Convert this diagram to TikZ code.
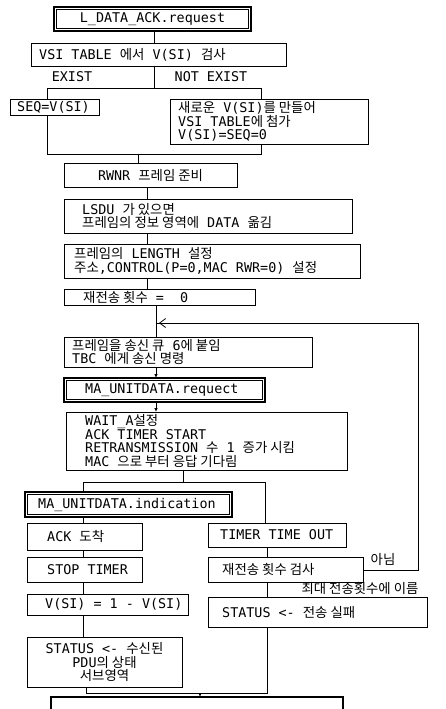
\documentclass[tikz,border=0pt]{standalone}
\usepackage{fontspec}
\setmainfont{DejaVu Sans Mono}
\newfontfamily\kr[Scale=1.0]{Noto Sans CJK KR}
\newcommand\ko[1]{{\kr #1}}
\usetikzlibrary{arrows.meta}
\tikzset{
  box/.style={draw, line width=0.8pt, anchor=north west, inner sep=0pt, outer sep=0pt},
  dbl/.style={draw, line width=1.7pt, anchor=north west, inner sep=0pt, outer sep=0pt},
  txt/.style={inner sep=0pt, align=left, font=\fontsize{13.4}{13.8}\selectfont},
  txtc/.style={inner sep=0pt, align=center, font=\fontsize{13.4}{13.8}\selectfont},
  conn/.style={line width=0.8pt},
  arr/.style={line width=0.8pt, -{Latex[length=4pt,width=3.5pt]}},
}
% style, name, x, y, w, h, indent, text
\newcommand\bxx[8]{%
  \node[#1, minimum width=#5pt, minimum height=#6pt] (#2) at (#3,#4) {};
  \node[txt, anchor=west] (#2t) at ([xshift=#7pt]#2.west) {#8};}
\newcommand\bxc[7]{%
  \node[#1, minimum width=#5pt, minimum height=#6pt] (#2) at (#3,#4) {};
  \node[txtc] (#2t) at (#2.center) {#7};}
\newcommand\inner[1]{%
  \draw[line width=0.6pt] ([shift={(2.6,2.6)}]#1.north west) rectangle ([shift={(-2.6,-2.6)}]#1.south east);}
\begin{document}
\begin{tikzpicture}[x=1pt,y=-1pt]
\useasboundingbox (0,0) rectangle (446,709);
\clip (0,0) rectangle (446,709);
% boxes
\bxc{dbl}{n1}{54}{7}{197}{24}{L\_DATA\_ACK.request}
\inner{n1}
\bxx{box}{n2}{31}{43}{255}{23}{8}{VSI TABLE \ko{에서} V(SI) \ko{검사}}
\bxx{box}{n3}{10}{99}{89}{16}{7}{SEQ=V(SI)}
\bxx{box}{n4}{170}{99}{198}{45}{8}{\ko{새로운} V(SI)\ko{를 만들어}\\VSI TABLE\ko{에 첨가}\\V(SI)=SEQ=0}
\bxc{box}{n5}{64}{163}{173}{24}{RWNR \ko{프레임 준비}}
\bxx{box}{n6}{64}{199}{288}{34}{18}{LSDU \ko{가 있으면}\\\ko{프레임의 정보 영역에} DATA \ko{옮김}}
\bxx{box}{n7}{64}{244}{296}{34}{10}{\ko{프레임의} LENGTH \ko{설정}\\\ko{주소},CONTROL(P=0,MAC RWR=0) \ko{설정}}
\bxx{box}{n8}{64}{289}{191}{16}{19}{\ko{재전송 횟수} = \ 0}
\bxx{box}{n9}{64}{337}{248}{30}{8}{\ko{프레임을 송신 큐} 6\ko{에 붙임}\\TBC \ko{에게 송신 명령}}
\bxx{dbl}{n10}{64}{378}{201}{24}{21}{MA\_UNITDATA.requect}
\inner{n10}
\bxx{box}{n11}{66}{412}{281}{58}{19}{WAIT\_A\ko{설정}\\ACK TIMER START\\RETRANSMISSION \ko{수} 1 \ko{증가 시킴}\\MAC \ko{으로 부터 응답 기다림}}
\bxx{dbl}{n12}{25}{492}{207}{25}{13}{MA\_UNITDATA.indication}
\inner{n12}
\bxx{box}{n13}{27}{523}{115}{27}{20}{ACK \ko{도착}}
\bxx{box}{n14}{27}{557}{115}{25}{20}{STOP TIMER}
\bxx{box}{n15}{27}{594}{161}{21}{18}{V(SI) = 1 - V(SI)}
\bxc{box}{n16}{27}{637}{155}{50}{STATUS <- \ko{수신된}\\PDU\ko{의 상태}\\\ko{서브영역}}
\bxx{box}{n17}{208}{523}{138}{24}{12}{TIMER TIME OUT}
\bxx{box}{n18}{208}{557}{155}{25}{14}{\ko{재전송 횟수 검사}}
\bxx{box}{n19}{208}{597}{219}{30}{14}{STATUS <- \ko{전송 실패}}
\node[dbl, minimum width=292pt, minimum height=30pt] (n20) at (51,697) {};
% labels
\node[txt] (lex) at (72,77) {EXIST};
\node[txt] (lnex) at (211,77) {NOT EXIST};
\node[txt] (lno) at (383,559) {\ko{아님}};
\node[txt] (lmax) at (360,588) {\ko{최대 전송횟수에 이름}};
% coordinates
\coordinate (c1) at (154,88);
\coordinate (sl) at (47,88);
\coordinate (sr) at (261,88);
\coordinate (ml) at (47,154);
\coordinate (mr) at (261,154);
\coordinate (mc) at (138,154);
\coordinate (v1) at (147,0);
\coordinate (v2) at (156,323);
\coordinate (sp) at (183,482);
\coordinate (spl) at (83,482);
\coordinate (spr) at (265,482);
\coordinate (rc) at (267,0);
\coordinate (lr) at (418,570);
\coordinate (lt) at (418,323);
\coordinate (bl) at (86,693);
\coordinate (br) at (267,693);
\coordinate (bc) at (200,693);
% connectors
\draw[conn] (n1.south -| c1) -- (n2.north -| c1);
\draw[conn] (n2.south -| c1) -- (c1);
\draw[conn] (sl) -- (sr);
\draw[conn] (sl) -- (n3.north -| sl);
\draw[conn] (sr) -- (n4.north -| sr);
\draw[conn] (n3.south -| ml) -- (ml) -- (mr) -- (n4.south -| mr);
\draw[conn] (mc) -- (n5.north -| mc);
\draw[conn] (n5.south -| v1) -- (n6.north -| v1);
\draw[conn] (n6.south -| v1) -- (n7.north -| v1);
\draw[conn] (n7.south -| v1) -- (n8.north -| v1);
\draw[conn] (n8.south -| v2) -- (n9.north -| v2);
\draw[arr] (n9.south -| v2) -- (n10.north -| v2);
\draw[arr] (n10.south -| v2) -- (n11.north -| v2);
\draw[conn] (n11.south -| sp) -- (sp);
\draw[conn] (spl) -- (spr);
\draw[conn] (spl) -- (n12.north -| spl);
\draw[conn] (spr) -- (n17.north -| spr);
\draw[conn] (n12.south -| spl) -- (n13.north -| spl);
\draw[conn] (n13.south -| spl) -- (n14.north -| spl);
\draw[conn] (n14.south -| spl) -- (n15.north -| spl);
\draw[conn] (n15.south -| spl) -- (n16.north -| spl);
\draw[conn] (n17.south -| rc) -- (n18.north -| rc);
\draw[conn] (n18.south -| rc) -- (n19.north -| rc);
\draw[conn] (n18.east |- lr) -- (lr) -- (lt) -- (v2);
\draw[line width=0.8pt, -{Straight Barb[length=6pt,width=9pt]}] ([xshift=16pt]v2) -- ([xshift=3pt]v2);
\draw[conn] (n16.south -| bl) -- (bl) -- (br) -- (n19.south -| br);
\draw[arr] (bc) -- (n20.north -| bc);
\end{tikzpicture}
\end{document}
